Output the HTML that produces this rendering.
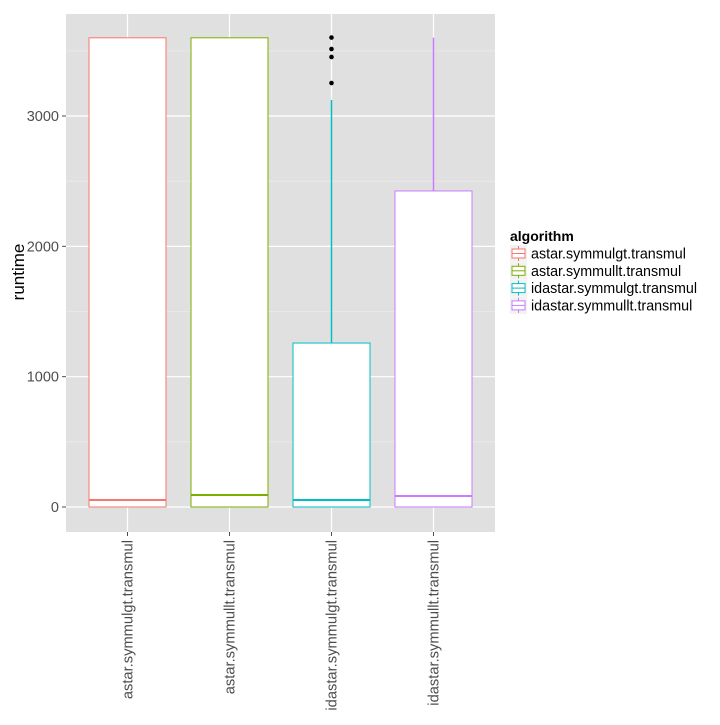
<!DOCTYPE html>
<html><head><meta charset="utf-8"><style>body{margin:0;background:#fff}svg{font-family:"Liberation Sans",sans-serif}</style></head>
<body>
<svg id="c" width="720" height="720"></svg>
<script>
const categories=["astar.symmulgt.transmul","astar.symmullt.transmul","idastar.symmulgt.transmul","idastar.symmullt.transmul"];
const colors=["#F8766D","#7CAE00","#00BFC4","#C77CFF"];
const q1=[0,0,0,0];
const medians=[54,92,54,84];
const q3=[3600,3600,1258,2425];
const whiskLow=[0,0,0,0];
const whiskHigh=[3600,3600,3123,3600];
const outliers=[[],[],[3602,3514,3453,3253],[]];
const yTicks=[0,1000,2000,3000];
const yMinor=[500,1500,2500,3500];
const NS="http://www.w3.org/2000/svg";
const svg=document.getElementById('c');
const L=66,R=495,T=14,B=532;
const y=v=>507-v*0.13033;
const x=i=>127.5+i*102;
function el(t,a,p){const e=document.createElementNS(NS,t);for(const k in a)e.setAttribute(k,a[k]);(p||svg).appendChild(e);return e;}
const panel=el('rect',{x:L,y:T,width:R-L,height:B-T,fill:'#e0e0e0'});


yMinor.forEach(v=>{const l=el('line',{x1:L,x2:R,y1:y(v),y2:y(v),stroke:'#ebebeb','stroke-width':0.8});});
yTicks.forEach(v=>{const l=el('line',{x1:L,x2:R,y1:y(v),y2:y(v),stroke:'#fff','stroke-width':1.2});
const t=el('text',{x:L-7,y:y(v)+5,'text-anchor':'end','font-size':14.5,fill:'#4d4d4d'});t.textContent=v;
el('line',{x1:L-4,x2:L,y1:y(v),y2:y(v),stroke:'#4d4d4d'});});
categories.forEach((c,i)=>{const l=el('line',{x1:x(i),x2:x(i),y1:T,y2:B,stroke:'#fff','stroke-width':1.2});});
categories.forEach((c,i)=>{
const g=el('g',{});
el('line',{x1:x(i),x2:x(i),y1:y(whiskHigh[i]),y2:y(q3[i]),stroke:colors[i],'stroke-width':1.5},g);
el('line',{x1:x(i),x2:x(i),y1:y(whiskLow[i]),y2:y(q1[i]),stroke:colors[i],'stroke-width':1.5},g);
el('rect',{x:x(i)-38.5,y:y(q3[i]),width:77,height:y(q1[i])-y(q3[i]),fill:'#fff',stroke:colors[i]},g);
el('line',{x1:x(i)-38.5,x2:x(i)+38.5,y1:y(medians[i]),y2:y(medians[i]),stroke:colors[i],'stroke-width':2},g);
outliers[i].forEach(v=>{const d=el('circle',{cx:x(i),cy:y(v),r:2.3,fill:'#000'},g);});
el('line',{x1:x(i),x2:x(i),y1:B,y2:B+4,stroke:'#4d4d4d'});
const t=el('text',{transform:`translate(${x(i)+5},540) rotate(-90)`,'text-anchor':'end','font-size':14.7,fill:'#4d4d4d'});t.textContent=c;
});
const yt=el('text',{transform:'translate(24,272) rotate(-90)','text-anchor':'middle','font-size':17,fill:'#000'});yt.textContent='runtime';
const lg=el('g',{});
const lt=el('text',{x:510,y:241,'font-size':14,'font-weight':'bold'},lg);lt.textContent='algorithm';
categories.forEach((c,i)=>{const yy=245+i*17.3;
const e=el('g',{},lg);
el('rect',{x:510,y:yy,width:17,height:17,fill:'#f2f2f2'},e);
el('line',{x1:518.5,x2:518.5,y1:yy+1,y2:yy+16,stroke:colors[i]},e);
el('rect',{x:512,y:yy+4,width:13,height:9,fill:'#fff',stroke:colors[i]},e);
el('line',{x1:512,x2:525,y1:yy+8.5,y2:yy+8.5,stroke:colors[i]},e);
const t=el('text',{x:531,y:yy+13.5,'font-size':14.3},e);t.textContent=c;});
</script>
</body></html>
